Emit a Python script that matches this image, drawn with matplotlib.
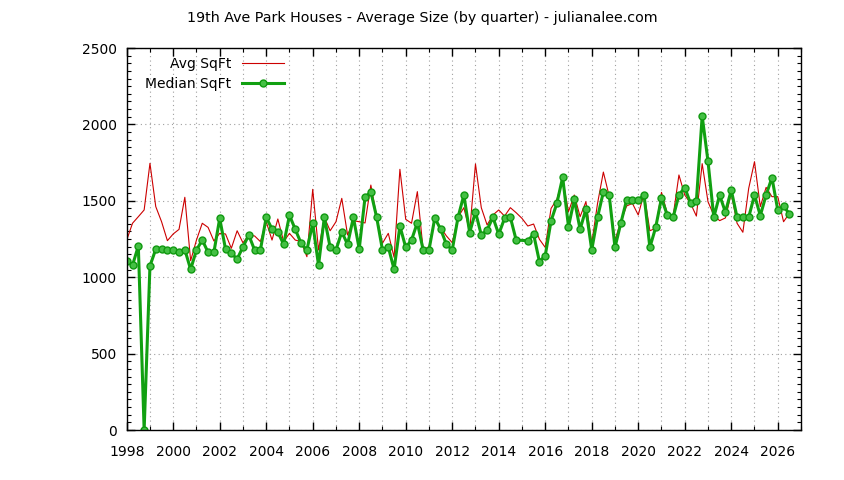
import numpy as np
import matplotlib
matplotlib.use("Agg")
import matplotlib.pyplot as plt
from matplotlib.ticker import MultipleLocator

# quarterly data, 1998 Q1 .. 2026 Q3
start_year = 1998
median_sqft = [
    1106, 1078, 1204, 0,
    1073, 1184, 1187, 1180,
    1178, 1163, 1180, 1051,
    1178, 1243, 1163, 1163,
    1385, 1184, 1156, 1119,
    1198, 1276, 1178, 1178,
    1392, 1315, 1296, 1215,
    1405, 1313, 1222, 1178,
    1353, 1078, 1392, 1195,
    1178, 1296, 1215, 1392,
    1184, 1523, 1558, 1392,
    1178, 1198, 1051, 1335,
    1195, 1243, 1357, 1178,
    1178, 1387, 1315, 1215,
    1178, 1392, 1538, 1292,
    1427, 1276, 1309, 1392,
    1281, 1385, 1392, 1243,
    np.nan, 1239, 1281, 1102,
    1141, 1368, 1483, 1654,
    1331, 1509, 1313, 1446,
    1178, 1392, 1558, 1538,
    1195, 1353, 1505, 1505,
    1505, 1538, 1195, 1326,
    1518, 1405, 1392, 1538,
    1587, 1483, 1498, 2055,
    1758, 1392, 1538, 1425,
    1571, 1392, 1392, 1392,
    1538, 1403, 1538, 1652,
    1440, 1466, 1414,
]
avg_sqft = [
    1243, 1353, 1396, 1440,
    1745, 1462, 1363, 1239,
    1283, 1313, 1523, 1108,
    1243, 1353, 1326, 1237,
    1287, 1283, 1189, 1304,
    1225, 1276, 1270, 1233,
    1363, 1243, 1381, 1233,
    1287, 1243, 1233, 1134,
    1575, 1178, 1392, 1304,
    1363, 1516, 1276, 1370,
    1363, 1355, 1603, 1396,
    1222, 1287, 1130, 1706,
    1379, 1353, 1560, 1178,
    1200, 1374, 1326, 1270,
    1226, 1392, 1455, 1298,
    1741, 1455, 1342, 1407,
    1440, 1400, 1455, 1422,
    1385, 1335, 1348, 1248,
    1195, 1450, 1509, 1641,
    1429, 1538, 1396, 1494,
    1222, 1483, 1688, 1531,
    1243, 1363, 1466, 1483,
    1407, 1549, 1304, 1320,
    1555, 1418, 1400, 1669,
    1538, 1483, 1400, 1743,
    1494, 1405, 1370, 1388,
    1549, 1353, 1294, 1581,
    1756, 1462, 1588, 1527,
    1527, 1363, 1418,
]

dates = start_year + np.arange(len(avg_sqft)) / 4.0
med = np.array(median_sqft, dtype=float)
ok = ~np.isnan(med)

plt.rcParams['font.family'] = ['DejaVu Sans']
plt.rcParams['font.size'] = 10

W, H = 844, 480
fig = plt.figure(figsize=(W / 100, H / 100), dpi=100)
ax = fig.add_axes([126.7 / W, (H - 430) / H, (801 - 126.7) / W, (430 - 48) / H])

ax.plot(dates, avg_sqft, color='#cc0000', lw=0.8, label='Avg SqFt')
ax.plot(dates[ok], med[ok], color='#11a011', lw=2.2, marker='o', ms=5,
        mfc='#44c044', mec='#109910', mew=1.0, label='Median SqFt')

ax.set_xlim(1998, 2027)
ax.set_ylim(0, 2500)
ax.xaxis.set_major_locator(MultipleLocator(2))
ax.xaxis.set_minor_locator(MultipleLocator(1))
ax.yaxis.set_major_locator(MultipleLocator(500))
ax.yaxis.set_minor_locator(MultipleLocator(50))

ax.tick_params(which='both', direction='in', top=True, right=True, colors='black')
ax.tick_params(which='major', length=6, width=1)
ax.tick_params(which='minor', length=3, width=0.8)
ax.tick_params(axis='x', which='major', pad=11)
ax.tick_params(axis='y', which='major', pad=7)

ax.grid(True, which='major', axis='y', color='#a0a0a0', ls=(0, (1, 3)), lw=0.8)
ax.grid(True, which='both', axis='x', color='#a0a0a0', ls=(0, (1, 3)), lw=0.8)
ax.set_axisbelow(True)
for s in ax.spines.values():
    s.set_linewidth(1.0)

leg = ax.legend(loc='upper right', bbox_to_anchor=(284 / W, (H - 57) / H),
                bbox_transform=fig.transFigure, frameon=False, markerfirst=False,
                numpoints=1, handlelength=3.0, handletextpad=0.8,
                labelspacing=0.45, borderpad=0, borderaxespad=0)

fig.text(0.5, 1 - 18 / H, '19th Ave Park Houses - Average Size (by quarter) - julianalee.com',
         ha='center', va='center', fontsize=10.3)

fig.savefig('out.png', dpi=100)
